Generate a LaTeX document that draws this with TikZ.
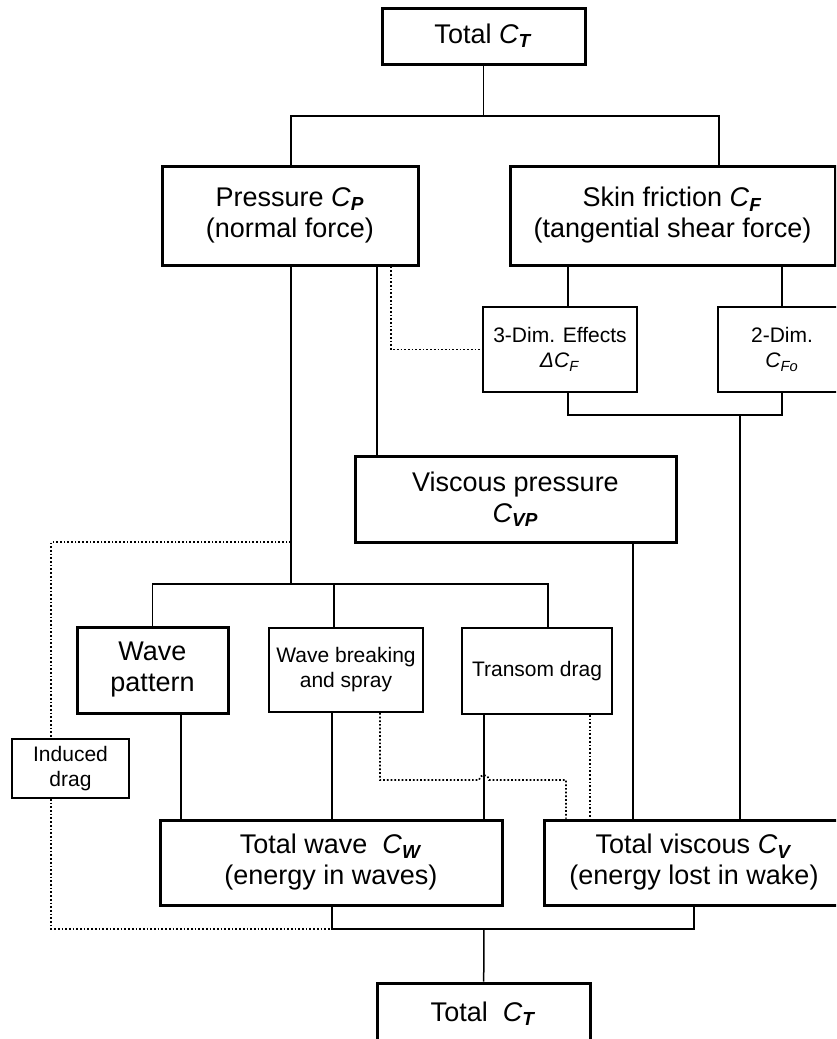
\documentclass[tikz,border=0pt]{standalone}
\usepackage{fontspec}
\setmainfont{Liberation Sans}
\newcommand{\coef}[2]{\textit{#1}\textsubscript{\textbf{\textit{#2}}}}
\tikzset{
    bigbox/.style={draw,line width=1.5pt,align=center,inner sep=0pt,font=\fontsize{13.5}{15.5}\selectfont},
    smallbox/.style={draw,line width=0.9pt,align=center,inner sep=0pt,font=\fontsize{10.5}{12.5}\selectfont},
    boxsize/.style 2 args={minimum width=#1*0.5pt,minimum height=#2*0.5pt},
    link/.style={line width=0.75pt},
    dotlink/.style={line width=0.85pt,densely dotted},
}

\begin{document}
\begin{tikzpicture}[x=0.5pt,y=-0.5pt]
    \path[use as bounding box] (0,0) rectangle (836,1039);
    \clip (0,0) rectangle (836,1039);

    % boxes
    \node[bigbox,boxsize={203}{56}] (totTop) at (483.5,36) {Total \coef{C}{T}};
    \node[bigbox,boxsize={256}{99}] (press) at (290,215.5) {Pressure \coef{C}{P}\\(normal force)};
    \node[bigbox,boxsize={325}{99}] (skin) at (672.5,215.5) {Skin friction \coef{C}{F}\\(tangential shear force)};
    \node[smallbox,boxsize={154}{85}] (dimA) at (560,349.5) {3-Dim. Effects\\\textit{ΔC}\textsubscript{\textit{F}}};
    \node[smallbox,boxsize={128}{85}] (dimB) at (782,349.5) {2-Dim.\\\textit{C}\textsubscript{\textit{Fo}}};
    \node[bigbox,boxsize={321}{86}] (viscP) at (515.5,499) {Viscous pressure\\\coef{C}{VP}};
    \node[bigbox,boxsize={151}{86}] (wavePat) at (152.5,670) {Wave\\pattern};
    \node[smallbox,boxsize={154}{84}] (waveBrk) at (346,670) {Wave breaking\\and spray};
    \node[smallbox,boxsize={150}{86}] (transom) at (537,671) {Transom drag};
    \node[smallbox,boxsize={117}{59}] (induced) at (70.5,768.5) {Induced\\drag};
    \node[bigbox,boxsize={342}{85}] (totW) at (331,862.5) {Total wave~~\coef{C}{W}\\(energy in waves)};
    \node[bigbox,boxsize={300}{85}] (totV) at (694,862.5) {Total viscous \coef{C}{V}\\(energy lost in wake)};
    \node[bigbox,boxsize={213}{62}] (totBot) at (483.5,1014) {Total~~\coef{C}{T}};

    % junctions
    \coordinate (jTop) at (483.5,116);
    \coordinate (jInd) at (291,542);
    \coordinate (jWave) at (291,584);
    \coordinate (jFric) at (740,415);
    \coordinate (jBot) at (332,929);
    \coordinate (jTot) at (484,929);

    % top split
    \draw[link] (totTop) -- (jTop);
    \draw[link] (press.north -| 291,0) |- (jTop) -| (skin.north -| 719,0);

    % pressure branches
    \draw[link] (press.south -| 291,0) -- (jWave);
    \draw[link] (press.south -| 377,0) -- (viscP.north -| 377,0);
    \draw[dotlink] (press.south -| 391,0) |- (dimA.west);

    % skin friction branches
    \draw[link] (skin.south -| 568,0) -- (dimA.north -| 568,0);
    \draw[link] (skin.south -| 782,0) -- (dimB.north);
    \draw[link] (dimA.south -| 568,0) |- (jFric) -| (dimB.south);
    \draw[link] (jFric) -- (totV.north -| 740,0);
    \draw[link] (viscP.south -| 633,0) -- (totV.north -| 633,0);

    % wave branches
    \draw[link] (wavePat.north) |- (jWave) -| (transom.north -| 548,0);
    \draw[link] (jWave -| 334,0) -- (waveBrk.north -| 334,0);
    \draw[link] (wavePat.south -| 181,0) -- (totW.north -| 181,0);
    \draw[link] (waveBrk.south -| 332,0) -- (totW.north -| 332,0);
    \draw[link] (transom.south -| 484,0) -- (totW.north -| 484,0);
    \draw[dotlink] (transom.south -| 590,0) -- (totV.north -| 590,0);
    \draw[dotlink] (waveBrk.south -| 380,0) |- (479,780)
        arc[start angle=180,end angle=0,radius=2.5pt] -| (totV.north -| 566,0);

    % induced drag
    \draw[dotlink] (jInd) -| (induced.north -| 51,0);
    \draw[dotlink] (induced.south -| 51,0) |- (jBot);

    % totals
    \draw[link] (totW.south -| 332,0) -- (jBot) -| (totV.south);
    \draw[link] (jTot) -- (totBot);
\end{tikzpicture}
\end{document}
